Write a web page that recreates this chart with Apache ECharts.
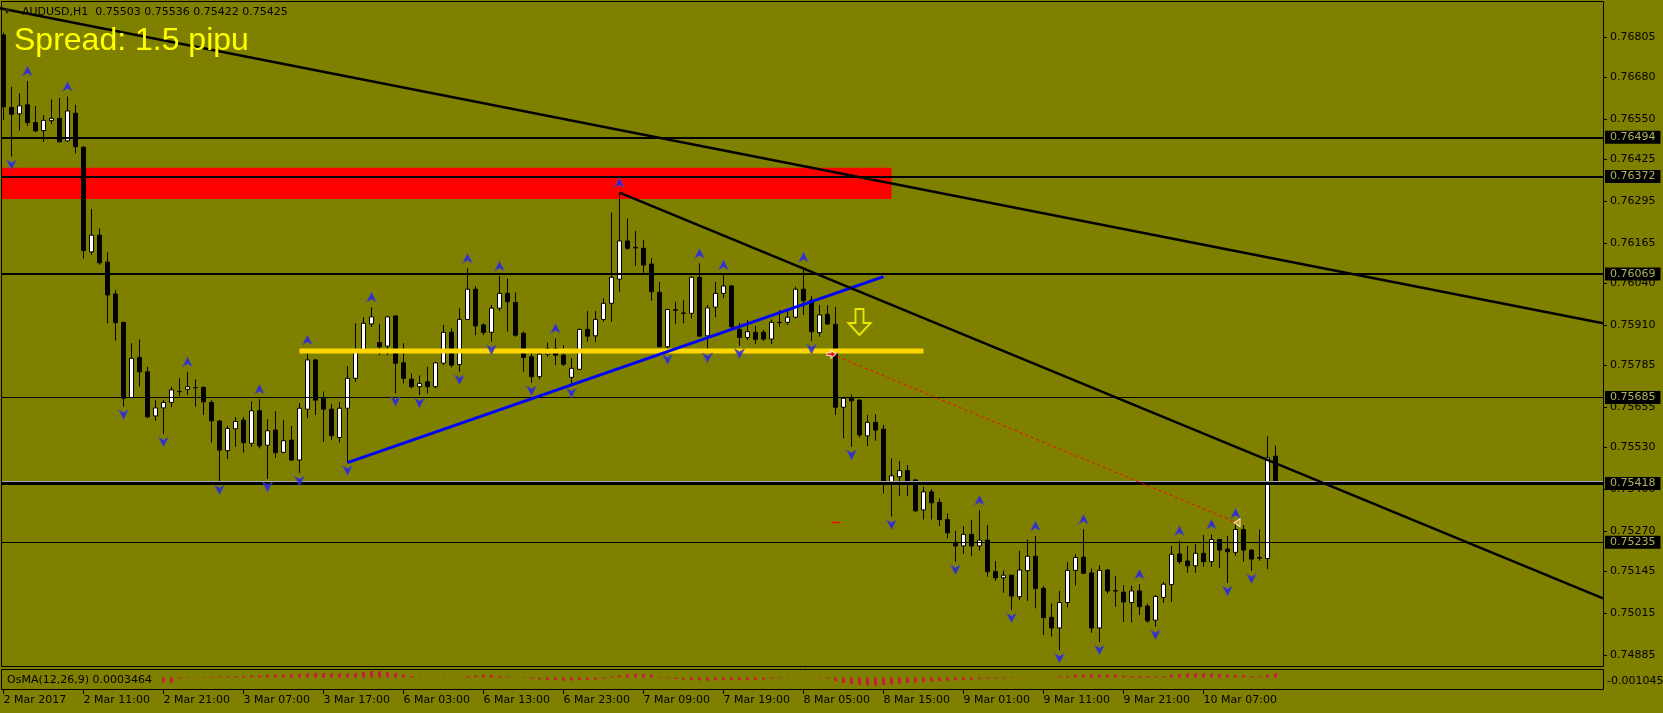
<!DOCTYPE html>
<html><head><meta charset="utf-8">
<script src="https://cdn.jsdelivr.net/npm/echarts@6/dist/echarts.min.js"></script>
<style>html,body{margin:0;padding:0;background:#808000;}#c{width:1663px;height:713px;}</style>
</head><body><div id="c"></div>
<script>
const opens = [
0.76812,0.76587,0.76567,0.76595,0.76540,0.76515,0.76546,0.76553,0.76483,0.76569,
0.76463,0.76138,0.76190,0.76106,0.76007,0.75919,0.75685,0.75810,0.75765,0.75628,
0.75653,0.75670,0.75703,0.75711,0.75716,0.75717,0.75670,0.75612,0.75520,0.75588,
0.75615,0.75543,0.75644,0.75537,0.75584,0.75515,0.75553,0.75491,0.75649,0.75802,
0.75683,0.75649,0.75561,0.75652,0.75745,0.75831,0.75914,0.75856,0.75845,0.75939,
0.75793,0.75742,0.75719,0.75734,0.75719,0.75792,0.75888,0.75788,0.75928,0.76022,
0.75911,0.75888,0.75963,0.76009,0.75981,0.75885,0.75812,0.75750,0.75820,0.75838,
0.75817,0.75748,0.75773,0.75897,0.75877,0.75928,0.75978,0.76053,0.76172,0.76152,
0.76149,0.76100,0.76012,0.75843,0.75958,0.75948,0.75947,0.76059,0.75877,0.75966,
0.76009,0.76032,0.75897,0.75872,0.75888,0.75888,0.75867,0.75918,0.75919,0.75935,
0.76022,0.75988,0.75887,0.75944,0.75913,0.75655,0.75683,0.75677,0.75566,0.75608,
0.75587,0.75418,0.75439,0.75458,0.75429,0.75336,0.75392,0.75359,0.75306,0.75235,
0.75224,0.75260,0.75224,0.75242,0.75144,0.75125,0.75133,0.75066,0.75147,0.75192,
0.75092,0.75002,0.74969,0.75048,0.75148,0.75189,0.75140,0.74969,0.75149,0.75085,
0.75080,0.75048,0.75084,0.75037,0.74993,0.75064,0.75104,0.75199,0.75177,0.75162,
0.75201,0.75175,0.75244,0.75214,0.75204,0.75275,0.75211,0.75188,0.75185,0.75503];
const highs = [
0.76820,0.76651,0.76631,0.76669,0.76591,0.76563,0.76612,0.76616,0.76621,0.76595,
0.76467,0.76271,0.76211,0.76137,0.76019,0.75919,0.75854,0.75866,0.75781,0.75677,
0.75677,0.75719,0.75745,0.75765,0.75742,0.75719,0.75677,0.75615,0.75597,0.75624,
0.75625,0.75673,0.75680,0.75618,0.75643,0.75615,0.75597,0.75668,0.75833,0.75805,
0.75704,0.75665,0.75671,0.75783,0.75916,0.75935,0.75966,0.75914,0.75939,0.75939,
0.75854,0.75760,0.75754,0.75781,0.75796,0.75911,0.75900,0.75963,0.76087,0.76032,
0.75916,0.75973,0.76063,0.76055,0.76012,0.75890,0.75831,0.75833,0.75856,0.75869,
0.75848,0.75807,0.75900,0.75954,0.75954,0.75994,0.76260,0.76322,0.76242,0.76203,
0.76175,0.76118,0.76045,0.75959,0.75983,0.75988,0.76062,0.76102,0.75973,0.76045,
0.76066,0.76035,0.75918,0.75926,0.75908,0.75895,0.75928,0.75957,0.75959,0.76030,
0.76090,0.76001,0.75973,0.75972,0.75967,0.75686,0.75695,0.75680,0.75631,0.75633,
0.75600,0.75496,0.75488,0.75475,0.75431,0.75408,0.75400,0.75372,0.75325,0.75271,
0.75286,0.75304,0.75335,0.75289,0.75177,0.75147,0.75133,0.75209,0.75244,0.75255,
0.75099,0.75045,0.75084,0.75173,0.75199,0.75276,0.75154,0.75164,0.75152,0.75130,
0.75102,0.75100,0.75105,0.75045,0.75071,0.75112,0.75224,0.75240,0.75224,0.75230,
0.75258,0.75260,0.75244,0.75255,0.75294,0.75289,0.75213,0.75275,0.75565,0.75536];
const lows = [
0.76548,0.76434,0.76515,0.76530,0.76511,0.76480,0.76535,0.76480,0.76480,0.76444,
0.76117,0.76129,0.76098,0.75916,0.75862,0.75657,0.75685,0.75719,0.75621,0.75613,
0.75572,0.75655,0.75688,0.75693,0.75657,0.75631,0.75545,0.75423,0.75494,0.75532,
0.75514,0.75532,0.75527,0.75432,0.75498,0.75512,0.75488,0.75451,0.75621,0.75631,
0.75547,0.75553,0.75545,0.75483,0.75734,0.75823,0.75905,0.75817,0.75817,0.75698,
0.75729,0.75714,0.75693,0.75698,0.75714,0.75786,0.75779,0.75765,0.75926,0.75879,
0.75879,0.75859,0.75955,0.75890,0.75874,0.75765,0.75731,0.75742,0.75812,0.75786,
0.75783,0.75724,0.75771,0.75859,0.75857,0.75921,0.75921,0.76014,0.76144,0.76094,
0.76073,0.75986,0.75843,0.75828,0.75914,0.75916,0.75931,0.75876,0.75833,0.75935,
0.75994,0.75901,0.75846,0.75864,0.75852,0.75861,0.75851,0.75905,0.75911,0.75931,
0.75942,0.75861,0.75874,0.75911,0.75631,0.75558,0.75532,0.75561,0.75535,0.75551,
0.75387,0.75315,0.75379,0.75379,0.75330,0.75306,0.75306,0.75286,0.75247,0.75175,
0.75199,0.75192,0.75209,0.75128,0.75115,0.75078,0.75025,0.75056,0.75053,0.75030,
0.74947,0.74942,0.74900,0.75033,0.75101,0.75137,0.74954,0.74925,0.75076,0.75035,
0.74988,0.74986,0.75009,0.74985,0.74973,0.75047,0.75050,0.75168,0.75140,0.75140,
0.75159,0.75159,0.75156,0.75109,0.75193,0.75175,0.75147,0.75178,0.75152,0.75422];
const closes = [
0.76589,0.76566,0.76592,0.76540,0.76514,0.76547,0.76553,0.76480,0.76576,0.76465,
0.76142,0.76190,0.76104,0.76004,0.75918,0.75683,0.75807,0.75765,0.75625,0.75653,
0.75670,0.75709,0.75704,0.75719,0.75716,0.75672,0.75613,0.75522,0.75589,0.75611,
0.75545,0.75644,0.75535,0.75582,0.75514,0.75551,0.75491,0.75652,0.75802,0.75677,
0.75649,0.75567,0.75652,0.75745,0.75833,0.75916,0.75936,0.75843,0.75936,0.75792,
0.75745,0.75719,0.75729,0.75719,0.75793,0.75888,0.75786,0.75928,0.76022,0.75908,
0.75887,0.75963,0.76009,0.75983,0.75879,0.75810,0.75750,0.75820,0.75838,0.75817,
0.75789,0.75776,0.75897,0.75876,0.75928,0.75978,0.76059,0.76172,0.76149,0.76150,
0.76097,0.76014,0.75843,0.75959,0.75956,0.75947,0.76059,0.75876,0.75964,0.76009,
0.76032,0.75905,0.75872,0.75890,0.75866,0.75867,0.75919,0.75919,0.75935,0.76022,
0.75986,0.75890,0.75942,0.75914,0.75655,0.75683,0.75675,0.75569,0.75608,0.75584,
0.75416,0.75442,0.75458,0.75426,0.75333,0.75392,0.75358,0.75306,0.75265,0.75224,
0.75260,0.75224,0.75242,0.75144,0.75125,0.75133,0.75068,0.75149,0.75192,0.75092,
0.75001,0.74969,0.75048,0.75148,0.75188,0.75139,0.74969,0.75148,0.75084,0.75084,
0.75050,0.75084,0.75035,0.74991,0.75067,0.75105,0.75198,0.75175,0.75162,0.75201,
0.75175,0.75244,0.75211,0.75206,0.75275,0.75211,0.75183,0.75186,0.75498,0.75425];

const osma = [
0.00002,0,0,0,0,0,0,0,0,0,
0,0,0,0,0,0,0,0,0,0,
-0.00040,-0.00045,-0.00010,-0.00005,0.00003,0.00005,0.00006,0.00008,0.00010,0.00012,
0.00015,0.00017,0.00016,0.00021,0.00023,0.00022,0.00027,0.00031,0.00036,0.00040,
0.00038,0.00034,0.00035,0.00033,0.00037,0.00048,0.00056,0.00052,0.00044,0.00039,
0.00026,0.00012,0.00004,0.00002,-0.00003,-0.00004,-0.00002,0.00003,0.00011,0.00017,
0.00021,0.00020,0.00014,0.00007,0.00001,-0.00005,-0.00011,-0.00016,-0.00021,-0.00024,
-0.00026,-0.00025,-0.00021,-0.00019,-0.00017,-0.00011,0.00009,0.00019,0.00027,0.00031,
0.00030,0.00024,0.00006,-0.00006,-0.00013,-0.00018,-0.00021,-0.00025,-0.00027,-0.00024,
-0.00022,-0.00021,-0.00023,-0.00024,-0.00020,-0.00016,-0.00011,-0.00006,-0.00004,-0.00002,
0.00001,-0.00002,-0.00004,-0.00009,-0.00031,-0.00046,-0.00056,-0.00061,-0.00066,-0.00069,
-0.00063,-0.00058,-0.00051,-0.00046,-0.00041,-0.00037,-0.00034,-0.00031,-0.00028,-0.00024,
-0.00021,-0.00018,-0.00015,-0.00012,-0.00010,-0.00007,-0.00005,-0.00003,0.00001,0.00002,
-0.00002,0.00003,0.00008,0.00015,0.00022,0.00026,0.00028,0.00025,0.00022,0.00024,
0.00016,0.00012,0.00014,0.00012,0.00010,0.00012,0.00022,0.00030,0.00034,0.00036,
0.00034,0.00032,0.00030,0.00024,0.00020,0.00018,0.00012,0.00008,0.00022,0.0003464];

const tickBars = [0,10,20,30,40,50,60,70,80,90,100,110,120,130,140,150];
const timeLabels = ['2 Mar 2017','2 Mar 11:00','2 Mar 21:00','3 Mar 07:00','3 Mar 17:00','6 Mar 03:00','6 Mar 13:00','6 Mar 23:00','7 Mar 09:00','7 Mar 19:00','8 Mar 05:00','8 Mar 15:00','9 Mar 01:00','9 Mar 11:00','9 Mar 21:00','10 Mar 07:00'];
const priceTicks = [0.76805,0.76680,0.76550,0.76425,0.76295,0.76165,0.76040,0.75910,0.75785,0.75655,0.75530,0.75400,0.75270,0.75145,0.75015,0.74885];
const levelPrices = [0.76494,0.76372,0.76069,0.75685,0.75418,0.75235];
const bidPrice = 0.75425;
const zoneBars = [-2, 111];
const zonePrices = [0.763997, 0.763024];
const fractalUp = [3,8,23,32,38,46,58,62,69,77,87,90,100,122,129,135,142,147,151,154];
const fractalDown = [1,15,20,27,33,37,43,49,52,57,61,66,71,83,88,92,101,106,111,119,126,132,137,144,153,156];
const trendLong = [[-0.4375,0.76895],[199.94,0.75916]];
const trendShort = [[77,0.76322],[199.94,0.75061]];
const trendBlue = [[43,0.75483],[110,0.76061]];
const yellowLevel = [[37,0.7583],[115,0.7583]];
const redDotted = [[103.5,0.75820],[154.2,0.75296]];
const redTick = [[103.5,0.75297],[104.5,0.75297]];
const entryMark = [[103.5,0.75820]];
const targetMark = [[154.2,0.75296]];
const sellArrow = [[107,0.75920]];
const titleText = 'AUDUSD,H1  0.75503 0.75536 0.75422 0.75425';
const spreadText = 'Spread: 1.5 pipu';
const osmaText = 'OsMA(12,26,9) 0.0003464';
const osmaAxisText = '-0.001045';

// ---- layout / styles ----
const FONT = 'DejaVu Sans';
const levelWidths = [2,2,2,1,3,1];
const X_MIN = -0.1875, X_MAX = 199.9375;

const chart = echarts.init(document.getElementById('c'), null, {renderer:'canvas'});
const candleData = opens.map((o,i)=>[i,o,closes[i],lows[i],highs[i]]);

function lineSeries(data, color, width, z, type){
  return {type:'line', xAxisIndex:0, yAxisIndex:0, data:data, showSymbol:false, symbol:'none', z:z,
    silent:true, clip:true, lineStyle:{color:color, width:width, type:type||'solid', cap:'butt'}};
}
const upPath = 'path://M5,0 L10,10 L5,7 L0,10 Z';
const dnPath = 'path://M0,0 L5,3 L10,0 L5,10 Z';

const option = {
  backgroundColor:'#808000',
  animation:false,
  grid:[
    {left:2, top:2, width:1601, height:665, outerBoundsMode:'none', containLabel:false},
    {left:2, top:670, width:1601, height:20, outerBoundsMode:'none', containLabel:false}
  ],
  xAxis:[
    {gridIndex:0, type:'value', min:X_MIN, max:X_MAX, show:false, axisLine:{onZero:false}},
    {gridIndex:1, type:'value', min:X_MIN, max:X_MAX, position:'bottom',
      axisLine:{show:false, onZero:false}, splitLine:{show:false},
      axisTick:{show:true, customValues:tickBars, length:4, lineStyle:{color:'#000', width:1}},
      axisLabel:{show:true, customValues:tickBars, formatter:(v)=>timeLabels[tickBars.indexOf(Math.round(v))],
        align:'left', color:'#000', fontSize:11, fontFamily:FONT, margin:5}}
  ],
  yAxis:[
    {gridIndex:0, type:'value', position:'right', min:0.748476, max:0.769147, scale:true,
      splitLine:{show:false}, axisLine:{show:false, onZero:false},
      axisTick:{show:true, customValues:priceTicks, length:4, lineStyle:{color:'#000', width:1}},
      axisLabel:{show:true, customValues:priceTicks, formatter:(v)=>v.toFixed(5), color:'#000', fontSize:11, fontFamily:FONT, margin:7}},
    {gridIndex:1, type:'value', position:'right', min:-0.00105, max:0.00063, show:false, axisLine:{onZero:false}}
  ],
  series:[
    {type:'candlestick', xAxisIndex:0, yAxisIndex:0, z:3, data:candleData, barWidth:4, silent:true,
      itemStyle:{color:'#ffffff', color0:'#000000', borderColor:'#000000', borderColor0:'#000000', borderColorDoji:'#000000', borderWidth:1},
      markArea:{silent:true, itemStyle:{color:'#ff0000', opacity:1},
        data:[[{xAxis:zoneBars[0], yAxis:zonePrices[0]},{xAxis:zoneBars[1], yAxis:zonePrices[1]}]]},
      markLine:{silent:true, symbol:['none','none'], animation:false, precision:5,
        data:[{yAxis:bidPrice, lineStyle:{color:'#a8a8b0', width:1, type:'solid'}, label:{show:false}}].concat(
          levelPrices.map((p,i)=>({yAxis:p, lineStyle:{color:'#000', width:levelWidths[i], type:'solid'},
          label:{show:true, position:'end', distance:2, formatter:()=>p.toFixed(5), backgroundColor:'#000', color:'#b0b060',
            fontSize:11, fontFamily:FONT, padding:[1,5,0,5], lineHeight:12}})))}
    },
    lineSeries(yellowLevel,'#ffd700',5,4),
    lineSeries(trendBlue,'#0000ff',3,5),
    lineSeries(trendLong,'#000000',2.5,5),
    lineSeries(trendShort,'#000000',2.5,5),
    lineSeries(redDotted,'#ff0000',1,5,[3,3]),
    lineSeries(redTick,'#ff0000',1.5,5),
    {type:'scatter', xAxisIndex:0, yAxisIndex:0, z:6, silent:true, symbol:upPath, symbolSize:[10,10], symbolOffset:[0,-10],
      data:fractalUp.map(k=>[k,highs[k]]), itemStyle:{color:'#1a1aff', borderColor:'#5a5a8a', borderWidth:0.8}},
    {type:'scatter', xAxisIndex:0, yAxisIndex:0, z:6, silent:true, symbol:dnPath, symbolSize:[10,10], symbolOffset:[0,8],
      data:fractalDown.map(k=>[k,lows[k]]), itemStyle:{color:'#1a1aff', borderColor:'#5a5a8a', borderWidth:0.8}},
    {type:'scatter', xAxisIndex:0, yAxisIndex:0, z:7, silent:true, symbol:'path://M0,3 L4,3 L4,0 L9,4.5 L4,9 L4,6 L0,6 Z', symbolSize:[9,8],
      data:entryMark, itemStyle:{color:'#ff0000', borderColor:'#ffffff', borderWidth:1}},
    {type:'scatter', xAxisIndex:0, yAxisIndex:0, z:7, silent:true, symbol:'triangle', symbolRotate:90, symbolSize:[8,6],
      data:targetMark, itemStyle:{color:'#e0a030', borderColor:'#ffffff', borderWidth:1}},
    {type:'scatter', xAxisIndex:0, yAxisIndex:0, z:7, silent:true, symbol:'path://M7,0 L15,0 L15,14 L22,14 L11,26 L0,14 L7,14 Z', symbolSize:[22,26],
      data:sellArrow, itemStyle:{color:'rgba(0,0,0,0)', borderColor:'#ffff00', borderWidth:2}},
    {type:'bar', xAxisIndex:1, yAxisIndex:1, z:3, silent:true, barWidth:3, data:osma.map((v,i)=>[i,v]),
      itemStyle:{color:'#c81e3c'}}
  ],
  graphic:[
    {type:'rect', silent:true, z:10, shape:{x:1.5, y:1.5, width:1602, height:665}, style:{fill:null, stroke:'#000', lineWidth:1}},
    {type:'rect', silent:true, z:10, shape:{x:1.5, y:669.5, width:1602, height:20}, style:{fill:null, stroke:'#000', lineWidth:1}},
    {type:'polygon', silent:true, z:10, shape:{points:[[4,9],[10,9],[7,14]]}, style:{fill:'#202020'}},
    {type:'text', silent:true, z:10, x:22, y:12.5, style:{text:titleText, fill:'#000', font:'11px "DejaVu Sans"', verticalAlign:'middle', align:'left'}},
    {type:'text', silent:true, z:10, x:14, y:41.5, style:{text:spreadText, fill:'#ffff00', font:'32px "Liberation Sans"', verticalAlign:'middle', align:'left'}},
    {type:'text', silent:true, z:10, x:7, y:680, style:{text:osmaText, fill:'#000', font:'11px "DejaVu Sans"', verticalAlign:'middle', align:'left'}},
    {type:'text', silent:true, z:10, x:1607, y:681.5, style:{text:osmaAxisText, fill:'#000', font:'11px "DejaVu Sans"', verticalAlign:'middle', align:'left'}}
  ]
};
chart.setOption(option);
</script>
</body></html>
